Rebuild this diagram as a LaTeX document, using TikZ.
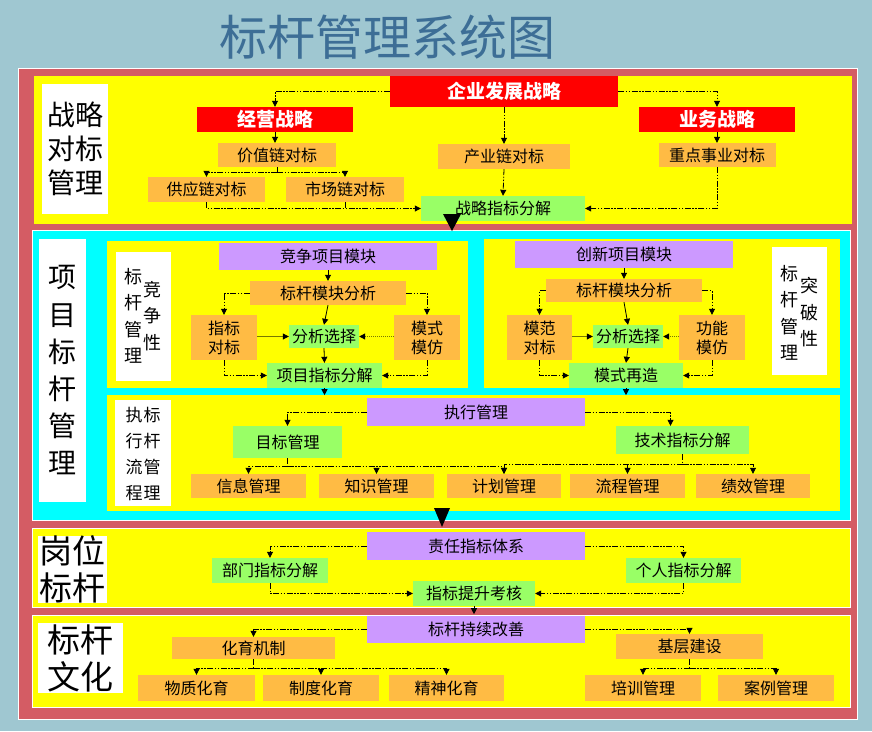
\documentclass[tikz,border=0pt]{standalone}
\usepackage{fontspec}
\newfontfamily\cjk{Noto Sans CJK SC}
\usetikzlibrary{arrows.meta}
\definecolor{bgblue}{RGB}{159,199,209}
\definecolor{framered}{RGB}{212,92,100}
\definecolor{titleblue}{RGB}{61,110,150}
\definecolor{boxorange}{RGB}{255,187,68}
\definecolor{boxgreen}{RGB}{153,255,102}
\definecolor{boxpurple}{RGB}{204,153,255}
\definecolor{boxred}{RGB}{255,0,0}
\definecolor{panelyellow}{RGB}{255,255,0}
\definecolor{panelcyan}{RGB}{0,255,255}
\definecolor{lineolive}{RGB}{120,120,0}

\begin{document}
\begin{tikzpicture}[x=1pt, y=-1pt,
  >={Triangle[length=6pt,width=6pt]},
  sz/.style 2 args={minimum width=#1, minimum height=#2},
  box/.style={inner sep=0pt, align=center, font=\cjk\fontsize{16}{22}\selectfont},
  two/.style={font=\cjk\fontsize{16}{19}\selectfont},
  obox/.style={box, fill=boxorange},
  gbox/.style={box, fill=boxgreen},
  pbox/.style={box, fill=boxpurple},
  rbox/.style={box, fill=boxred, text=white, font=\cjk\bfseries\fontsize{19}{22}\selectfont},
  labbox/.style={fill=white, inner sep=0pt, align=center},
  coltext/.style={box, font=\cjk\fontsize{18}{26.5}\selectfont},
  dd/.style={line width=0.8pt, dash pattern=on 6pt off 1.5pt on 1.5pt off 1.5pt on 1.5pt off 1.5pt},
  flow/.style={dd, ->},
  sarrow/.style={line width=0.8pt, ->}]

\useasboundingbox (0,0) rectangle (872,731);
\fill[bgblue] (0,0) rectangle (872,731);
\node[font=\cjk\fontsize{48}{48}\selectfont, text=titleblue] (title) at (387,37) {标杆管理系统图};

% frame and panels
\filldraw[fill=framered, draw=white, line width=1.5pt] (18.5,68.5) rectangle (857.5,719.5);
\fill[panelyellow] (34,76) rectangle (852,224);
\filldraw[fill=panelcyan, draw=white, line width=1pt] (32,230) rectangle (850,520);
\fill[panelyellow] (107,241) rectangle (468,388);
\fill[panelyellow] (484,239) rectangle (840,388);
\fill[panelyellow] (107,395) rectangle (840,511);
\filldraw[fill=panelyellow, draw=white, line width=1pt] (32,528) rectangle (850,607);
\filldraw[fill=panelyellow, draw=white, line width=1pt] (32,615) rectangle (850,707);

\node[labbox, sz={66}{130}, font=\cjk\fontsize{28}{34}\selectfont] (lab1) at (75,149) {战略\\对标\\管理};
\node[labbox, sz={47}{263}, font=\cjk\fontsize{28}{37.2}\selectfont] (lab2) at (62.5,370.5) {项\\目\\标\\杆\\管\\理};
\node[labbox, sz={69}{65}, font=\cjk\fontsize{33}{37}\selectfont] (lab3) at (72.5,569.5) {岗位\\标杆};
\node[labbox, sz={85}{70}, font=\cjk\fontsize{33}{37}\selectfont] (lab4) at (80.5,658) {标杆\\文化};

% strategy benchmarking
\node[rbox, sz={228}{31}] (qyzl) at (504,91.5) {企业发展战略};
\node[rbox, sz={156}{25}] (jyzl) at (275,119.5) {经营战略};
\node[rbox, sz={156}{25}] (ywzl) at (717,119.5) {业务战略};
\node[obox, sz={118}{24}] (jzl) at (277,155) {价值链对标};
\node[obox, sz={117}{25}] (gyl) at (206.5,189.5) {供应链对标};
\node[obox, sz={118}{25}] (scl) at (345,189.5) {市场链对标};
\node[obox, sz={132}{25}] (cyl) at (504,156.5) {产业链对标};
\node[obox, sz={117}{24}] (zdsy) at (717,155) {重点事业对标};
\node[gbox, sz={164}{25}] (zlfj) at (503,208.5) {战略指标分解};

\draw[flow] (qyzl.west) -| (jyzl.north);
\draw[flow] (qyzl.east) -| (ywzl.north);
\draw[flow] (qyzl.south) -- (cyl.north);
\draw[sarrow] (jyzl.south) -- (jyzl.south |- jzl.north);
\draw[sarrow] (ywzl.south) -- (zdsy.north);
\draw[dd] (jzl.south) -- ++(0,5) coordinate (jzlb);
\draw[flow] (jzlb) -| (gyl.north);
\draw[flow] (jzlb) -| (scl.north);
\draw[flow] (gyl.south) |- (zlfj.west);
\draw[dd] (scl.south) -- (scl.south |- zlfj.west);
\draw[flow] (zdsy.south) |- (zlfj.east);
\draw[flow] (cyl.south) -- (zlfj.north);
\fill (443,214) -- (461,214) -- (452,231) -- cycle;

% competitive projects
\node[labbox, sz={55}{129}] (lab2a) at (143.5,316.5) {};
\node[coltext] (lab2a1) at (133,316) {标\\杆\\管\\理};
\node[coltext] (lab2a2) at (152,316) {竞\\争\\性};
\node[pbox, sz={218}{27}] (jzmk) at (328,256.5) {竞争项目模块};
\node[obox, sz={156}{24}] (bgfx) at (328,293) {标杆模块分析};
\node[obox, two, sz={66}{45}] (zbdb) at (224,337.5) {指标\\对标};
\node[gbox, sz={70}{23}] (fxxz) at (324,336.5) {分析选择};
\node[obox, two, sz={66}{45}] (msmf) at (427,337.5) {模式\\模仿};
\node[gbox, sz={115}{25}] (xmfj) at (324.5,375.5) {项目指标分解};

\draw[sarrow] (jzmk.south) -- (bgfx.north);
\draw[flow] (bgfx.west) -| (zbdb.north);
\draw[flow] (bgfx.east) -| (msmf.north);
\draw[sarrow] (bgfx.south) -- (fxxz.north);
\draw[line width=0.8pt, lineolive, -{Triangle[length=6pt,width=6pt,color=black]}] (zbdb.east |- fxxz.west) -- (fxxz.west);
\draw[line width=1pt, densely dotted, lineolive, -{Triangle[length=6pt,width=6pt,color=black]}] (msmf.west |- fxxz.east) -- (fxxz.east);
\draw[sarrow] (fxxz.south) -- (xmfj.north);
\draw[flow] (zbdb.south) |- (xmfj.west);
\draw[flow] (msmf.south) |- (xmfj.east);
\draw[sarrow] (xmfj.south) -- ++(0,7);

% breakthrough projects
\node[labbox, sz={55}{128}] (lab2b) at (799.5,311) {};
\node[coltext] (lab2b1) at (789,313) {标\\杆\\管\\理};
\node[coltext] (lab2b2) at (809,312.5) {突\\破\\性};
\node[pbox, sz={218}{27}] (cxmk) at (624,254.5) {创新项目模块};
\node[obox, sz={156}{23}] (bgfx2) at (624,290.5) {标杆模块分析};
\node[obox, two, sz={65}{45}] (mfdb) at (539.5,337.5) {模范\\对标};
\node[gbox, sz={70}{23}] (fxxz2) at (628,336.5) {分析选择};
\node[obox, two, sz={66}{45}] (gnmf) at (712,337.5) {功能\\模仿};
\node[gbox, sz={114}{25}] (msrz) at (626,375.5) {模式再造};

\draw[sarrow] (cxmk.south) -- (bgfx2.north);
\draw[flow] (bgfx2.west) -| (mfdb.north);
\draw[flow] (bgfx2.east) -| (gnmf.north);
\draw[sarrow] (bgfx2.south) -- (fxxz2.north);
\draw[line width=0.8pt, lineolive, -{Triangle[length=6pt,width=6pt,color=black]}] (mfdb.east |- fxxz2.west) -- (fxxz2.west);
\draw[line width=1pt, densely dotted, lineolive, -{Triangle[length=6pt,width=6pt,color=black]}] (gnmf.west |- fxxz2.east) -- (fxxz2.east);
\draw[sarrow] (fxxz2.south) -- (msrz.north);
\draw[flow] (mfdb.south) |- (msrz.west);
\draw[flow] (gnmf.south) |- (msrz.east);
\draw[sarrow] (msrz.south) -- ++(0,7);

% execution
\node[labbox, sz={56}{106}] (lab2c) at (143,453) {};
\node[coltext, font=\cjk\fontsize{17}{26}\selectfont] (lab2c1) at (134,454) {执\\行\\流\\程};
\node[coltext, font=\cjk\fontsize{17}{26}\selectfont] (lab2c2) at (152,454) {标\\杆\\管\\理};
\node[pbox, sz={218}{28}] (zxgl) at (476,412) {执行管理};
\node[gbox, sz={109}{32}] (mbgl) at (287.5,442) {目标管理};
\node[gbox, sz={133}{28}] (jsfj) at (682.5,440) {技术指标分解};
\node[obox, sz={115}{24}] (xxgl) at (248.5,486) {信息管理};
\node[obox, sz={115}{24}] (zsgl) at (376.5,486) {知识管理};
\node[obox, sz={114}{24}] (jhgl) at (504,486) {计划管理};
\node[obox, sz={115}{24}] (lcgl) at (627.5,486) {流程管理};
\node[obox, sz={114}{24}] (jxgl) at (753,486) {绩效管理};

\draw[flow] (zxgl.west) -| (mbgl.north);
\draw[flow] (zxgl.east) -| ([xshift=-12pt]jsfj.north);
\draw[dd] (mbgl.south) -- ++(0,8) coordinate (mbglb);
\draw[flow] (mbglb) -| (xxgl.north);
\draw[flow] (mbglb) -| (zsgl.north);
\draw[flow] (mbglb) -| (jhgl.north);
\draw[dd] (jsfj.south) -- ++(0,10) coordinate (jsfjb);
\draw[flow] (jsfjb) -| (jhgl.north);
\draw[flow] (jsfjb) -| (lcgl.north);
\draw[flow] (jsfjb) -| (jxgl.north);
\fill (434,508) -- (450,508) -- (442,527) -- cycle;

% post benchmarking
\node[pbox, sz={218}{28}] (zrtx) at (476,546) {责任指标体系};
\node[gbox, sz={116}{25}] (bmfj) at (270,570.5) {部门指标分解};
\node[gbox, sz={115}{25}] (grfj) at (683.5,570.5) {个人指标分解};
\node[gbox, sz={122}{25}] (zbkh) at (474,593.5) {指标提升考核};

\draw[flow] (zrtx.west) -| (bmfj.north);
\draw[flow] (zrtx.east) -| (grfj.north);
\draw[flow] (bmfj.south) |- (zbkh.west);
\draw[flow] (grfj.south) |- (zbkh.east);
\draw[sarrow] (zbkh.south) -- ++(0,8);

% culture
\node[pbox, sz={218}{27}] (cxgs) at (476,629.5) {标杆持续改善};
\node[obox, sz={163}{22}] (hyjz) at (253.5,648) {化育机制};
\node[obox, sz={147}{25}] (jcjs) at (689.5,646.5) {基层建设};
\node[obox, sz={117}{26}] (wzhy) at (196.5,688) {物质化育};
\node[obox, sz={116}{26}] (zdhy) at (321,688) {制度化育};
\node[obox, sz={115}{26}] (jshy) at (446.5,688) {精神化育};
\node[obox, sz={116}{26}] (pxgl) at (643,688) {培训管理};
\node[obox, sz={116}{26}] (algl) at (776,688) {案例管理};

\draw[flow] (cxgs.west) -| (hyjz.north);
\draw[flow] (cxgs.east) -| (jcjs.north);
\draw[dd] (hyjz.south) -- ++(0,9) coordinate (hyjzb);
\draw[flow] (hyjzb) -| (wzhy.north);
\draw[flow] (hyjzb) -| (zdhy.north);
\draw[flow] (hyjzb) -| (jshy.north);
\draw[dd] (jcjs.south) -- ++(0,9) coordinate (jcjsb);
\draw[flow] (jcjsb) -| (pxgl.north);
\draw[flow] (jcjsb) -| (algl.north);
\end{tikzpicture}
\end{document}
